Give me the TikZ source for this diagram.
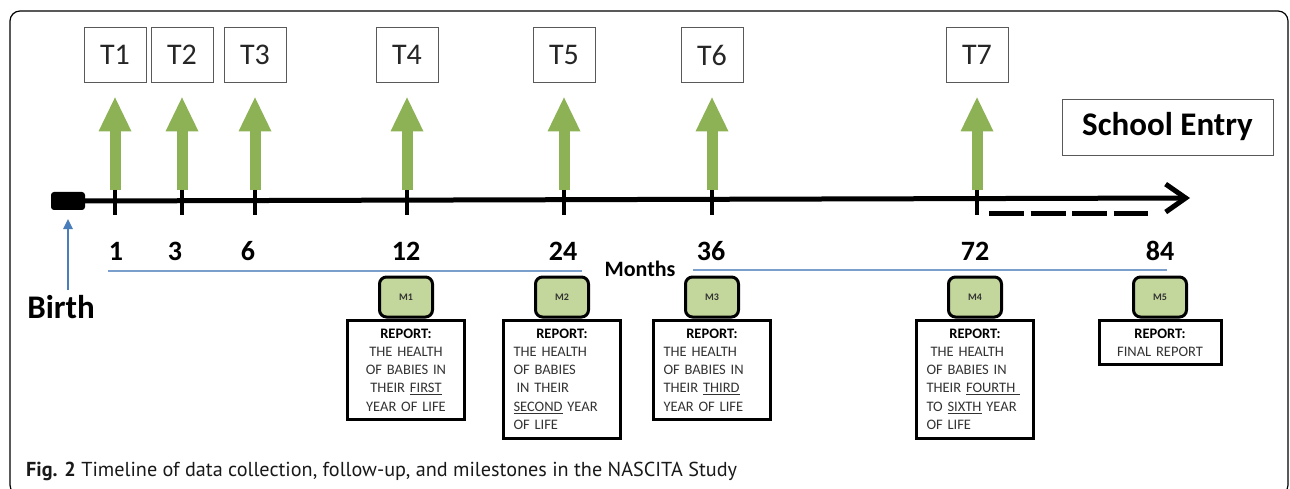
\documentclass[tikz,border=0pt]{standalone}
\usepackage{fontspec}
\setmainfont{Carlito}
\newfontfamily\capfont{PT Sans}
\usetikzlibrary{arrows.meta,positioning}
\definecolor{leaf}{HTML}{8DB255}
\definecolor{mfill}{HTML}{C3D69B}
\definecolor{sky}{HTML}{4A7EBB}
\definecolor{rule}{HTML}{7A9FCC}
\definecolor{ink}{HTML}{333333}

\begin{document}
\begin{tikzpicture}[x=1pt,y=-1pt,
 tbox/.style={draw=black!65,line width=0.9pt,minimum width=62pt,minimum height=55pt,inner sep=0pt,font=\fontsize{30}{34}\selectfont,text=black!85},
 mbox/.style={draw=black,line width=3pt,fill=mfill,rounded corners=7pt,minimum width=53pt,minimum height=40pt,inner sep=0pt,font=\bfseries\fontsize{10}{12}\selectfont,text=ink},
 report/.style={draw=black,line width=3pt,fill=white,anchor=north,inner xsep=10pt,inner ysep=8.5pt,text width=97pt,font=\fontsize{14.5}{18.3}\selectfont,text=ink},
 num/.style={font=\bfseries\fontsize{28}{32}\selectfont,anchor=base},
 waveup/.style={leaf,line width=11pt,-{Triangle[width=33pt,length=34pt,line width=0pt]},shorten >=14.5pt},
 tickmark/.style={line width=4pt},
 blueline/.style={rule,line width=1.3pt}]
 \useasboundingbox (0,0) rectangle (1290,489);
 \draw[line width=1.2pt,rounded corners=10pt] (10,11) rectangle (1288,495);
 % data collection waves
 \foreach \m/\x/\t in {1/115/1,3/182/2,6/255/3,12/407/4,24/564/5,36/712/6,72/977/7}{
   \node[tbox] (t\t) at (\x,55) {T\t};
   \coordinate (tk\m) at (\x,190);
   \draw[waveup] (tk\m) -- (t\t.south);
 }
 % timeline
 \node[fill=black,rounded corners=3pt,minimum width=34pt,minimum height=18pt,inner sep=0pt] (birth) at (68,201) {};
 \coordinate (tend) at (1190,198);
 \draw[line width=5pt,-{Straight Barb[length=20pt,width=28pt]}] (birth.east) -- (tend);
 \foreach \m in {1,3,6,12,24,36,72}{
   \draw[tickmark] (tk\m) -- ++(0,25);
 }
 \coordinate (d0) at (989,214);
 \coordinate (d1) at (1148,214);
 \draw[line width=5pt,dash pattern=on 35pt off 6.5pt] (d0) -- (d1);
 \node[tbox,minimum width=211pt,minimum height=56pt,font=\bfseries\fontsize{33}{38}\selectfont,text=black] (school) at (1167.5,127) {School Entry};
 % months
 \foreach \m/\x in {1/116,3/175,6/248,12/406,24/563,36/711,72/975,84/1160}{
   \node[num] (n\m) at (\x,260) {\m};
 }
 \node[font=\bfseries\fontsize{22}{26}\selectfont] (months) at (640,269) {Months};
 \coordinate (b0) at (108,271);
 \coordinate (b1) at (582,271);
 \coordinate (b2) at (693,270);
 \coordinate (b3) at (1167,270);
 \draw[blueline] (b0) -- (b1);
 \draw[blueline] (b2) -- (b3);
 % birth
 \node[font=\bfseries\fontsize{33}{38}\selectfont] (birthlbl) at (61,307) {Birth};
 \coordinate (bs) at (68,290);
 \draw[sky,line width=2.5pt,-{Triangle[width=10pt,length=10pt,line width=0pt]},shorten >=9pt] (bs) -- (birth.south);
 % milestones
 \foreach \i/\x in {1/406,2/562,3/712,4/975,5/1160}{
   \node[mbox] (m\i) at (\x,297) {M\i};
 }
 \node[report,align=center] (r1) at (m1.south) {\textcolor{black}{\textbf{REPORT:}}\\THE HEALTH\\OF BABIES IN\\THEIR \underline{FIRST}\\YEAR OF LIFE};
 \node[report] (r2) at (m2.south) {\centering\textcolor{black}{\textbf{REPORT:}}\par\raggedright THE HEALTH\\OF BABIES\\\hspace*{3pt}IN THEIR\\\underline{SECOND} YEAR\\OF LIFE};
 \node[report] (r3) at (m3.south) {\centering\textcolor{black}{\textbf{REPORT:}}\par\raggedright THE HEALTH\\OF BABIES IN\\THEIR \underline{THIRD}\\YEAR OF LIFE};
 \node[report] (r4) at (m4.south) {\centering\textcolor{black}{\textbf{REPORT:}}\par\raggedright\hspace*{4pt}THE HEALTH\\OF BABIES IN\\THEIR \underline{FOURTH\ }\\TO \underline{SIXTH} YEAR\\OF LIFE};
 \node[report,text width=102pt,align=center] (r5) at (m5.south) {\textcolor{black}{\textbf{REPORT:}}\\FINAL REPORT};
 % caption
 \node[anchor=base west,inner sep=0pt,font=\capfont\fontsize{20.2}{24}\selectfont,text=black!90] (cap) at (26,476) {\textbf{Fig. 2} Timeline of data collection, follow-up, and milestones in the NASCITA Study};
\end{tikzpicture}
\end{document}
